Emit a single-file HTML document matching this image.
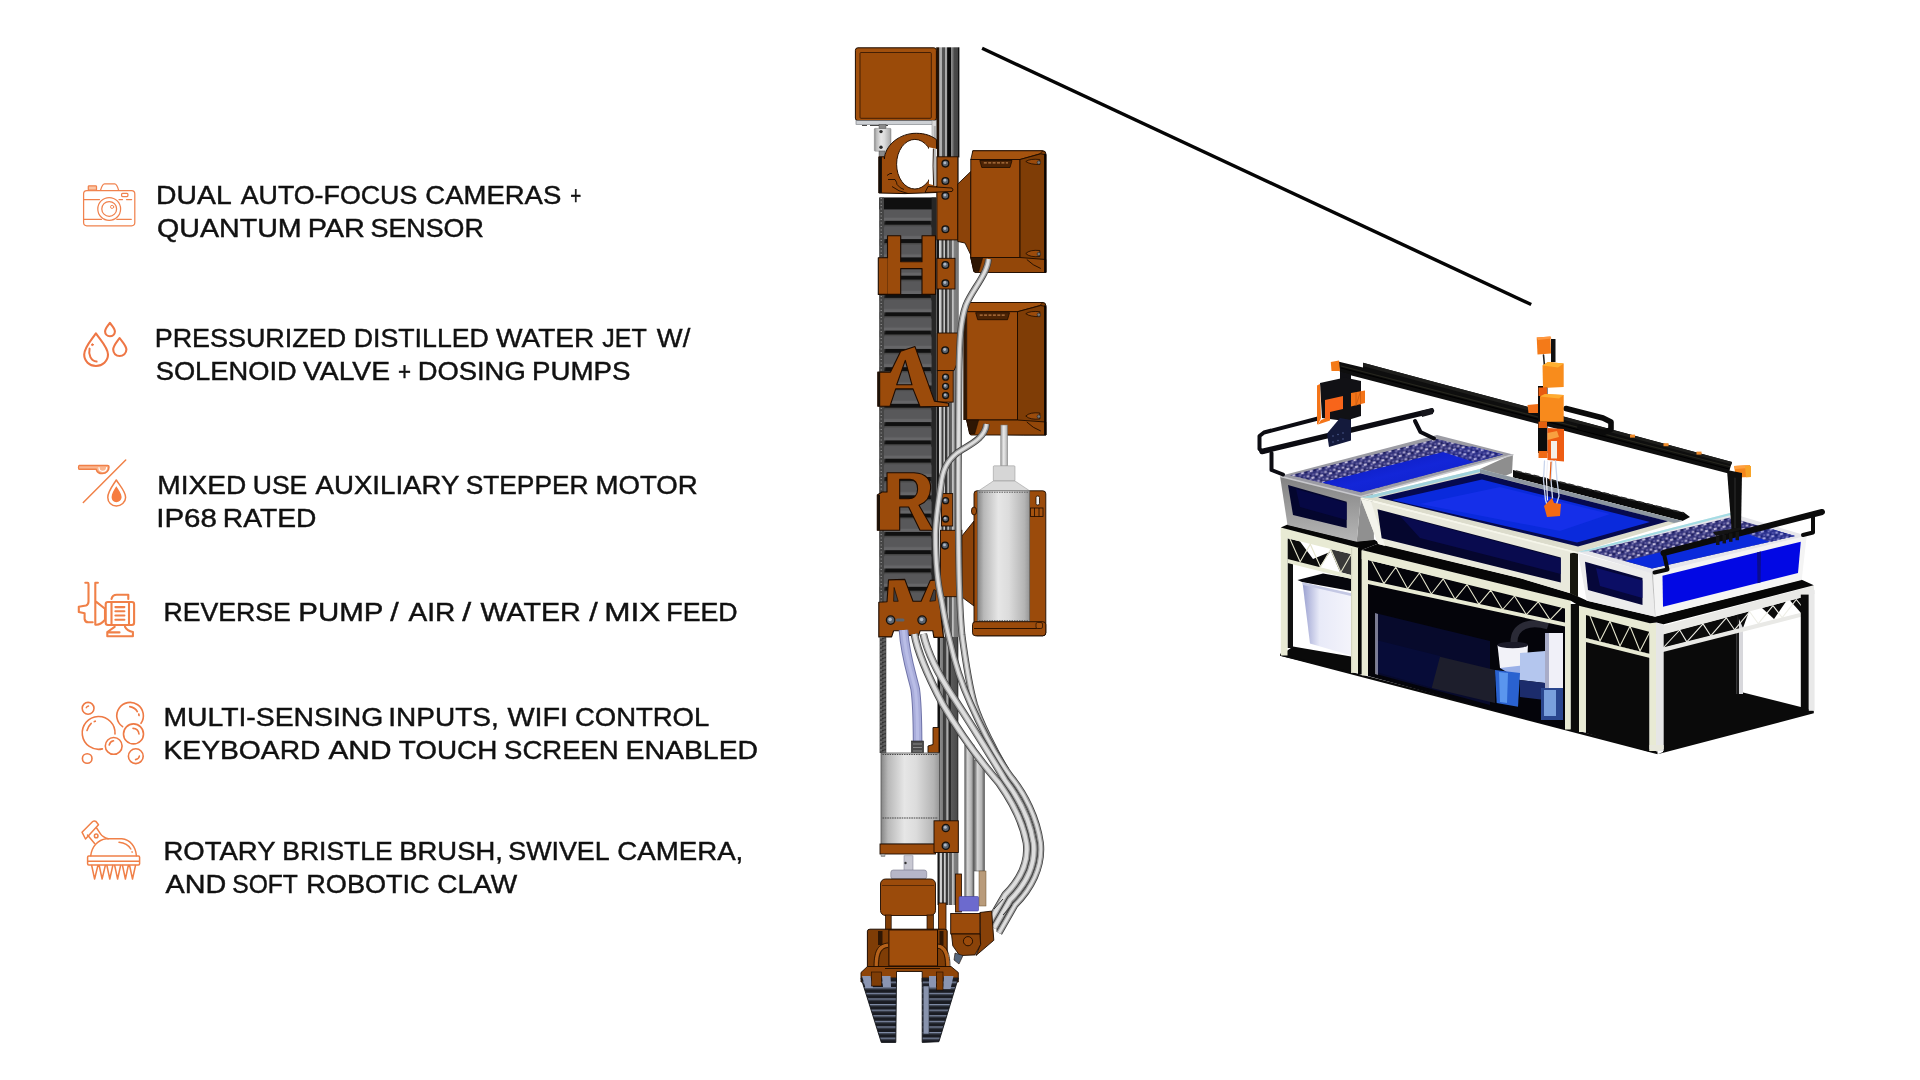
<!DOCTYPE html>
<html><head><meta charset="utf-8">
<style>
html,body{margin:0;padding:0;background:#fff;}
body{width:1920px;height:1080px;overflow:hidden;font-family:"Liberation Sans",sans-serif;}
svg{position:absolute;left:0;top:0;display:block;will-change:transform}
.t{font-family:"Liberation Sans",sans-serif;font-size:26px;fill:#111;stroke:#111;stroke-width:0.45px;}
.ic{fill:none;stroke:#f0824e;stroke-width:1.3;stroke-linecap:round;stroke-linejoin:round}
</style></head>
<body>
<svg id="main" width="1920" height="1080" viewBox="0 0 1920 1080">
<!-- TEXT -->
<g id="text">
<text class="t" x="156.10" y="204.0" textLength="75.60" lengthAdjust="spacingAndGlyphs">DUAL</text>
<text class="t" x="240.70" y="204.0" textLength="176.58" lengthAdjust="spacingAndGlyphs">AUTO-FOCUS</text>
<text class="t" x="425.31" y="204.0" textLength="135.99" lengthAdjust="spacingAndGlyphs">CAMERAS</text>
<text class="t" x="570.25" y="204.0" textLength="11.01" lengthAdjust="spacingAndGlyphs">+</text>
<text class="t" x="157.10" y="236.5" textLength="144.60" lengthAdjust="spacingAndGlyphs">QUANTUM</text>
<text class="t" x="307.70" y="236.5" textLength="57.20" lengthAdjust="spacingAndGlyphs">PAR</text>
<text class="t" x="370.51" y="236.5" textLength="113.39" lengthAdjust="spacingAndGlyphs">SENSOR</text>
<text class="t" x="154.70" y="347.0" textLength="191.40" lengthAdjust="spacingAndGlyphs">PRESSURIZED</text>
<text class="t" x="353.71" y="347.0" textLength="135.19" lengthAdjust="spacingAndGlyphs">DISTILLED</text>
<text class="t" x="496.10" y="347.0" textLength="98.18" lengthAdjust="spacingAndGlyphs">WATER</text>
<text class="t" x="602.13" y="347.0" textLength="44.58" lengthAdjust="spacingAndGlyphs">JET</text>
<text class="t" x="656.88" y="347.0" textLength="33.41" lengthAdjust="spacingAndGlyphs">W/</text>
<text class="t" x="155.70" y="379.6" textLength="141.00" lengthAdjust="spacingAndGlyphs">SOLENOID</text>
<text class="t" x="303.09" y="379.6" textLength="86.99" lengthAdjust="spacingAndGlyphs">VALVE</text>
<text class="t" x="398.12" y="379.6" textLength="13.03" lengthAdjust="spacingAndGlyphs">+</text>
<text class="t" x="417.68" y="379.6" textLength="108.04" lengthAdjust="spacingAndGlyphs">DOSING</text>
<text class="t" x="532.11" y="379.6" textLength="98.40" lengthAdjust="spacingAndGlyphs">PUMPS</text>
<text class="t" x="157.31" y="494.0" textLength="88.99" lengthAdjust="spacingAndGlyphs">MIXED</text>
<text class="t" x="252.72" y="494.0" textLength="54.57" lengthAdjust="spacingAndGlyphs">USE</text>
<text class="t" x="315.49" y="494.0" textLength="143.99" lengthAdjust="spacingAndGlyphs">AUXILIARY</text>
<text class="t" x="465.70" y="494.0" textLength="122.79" lengthAdjust="spacingAndGlyphs">STEPPER</text>
<text class="t" x="595.51" y="494.0" textLength="102.18" lengthAdjust="spacingAndGlyphs">MOTOR</text>
<text class="t" x="156.26" y="526.7" textLength="60.67" lengthAdjust="spacingAndGlyphs">IP68</text>
<text class="t" x="222.88" y="526.7" textLength="93.63" lengthAdjust="spacingAndGlyphs">RATED</text>
<text class="t" x="163.51" y="620.6" textLength="127.38" lengthAdjust="spacingAndGlyphs">REVERSE</text>
<text class="t" x="298.27" y="620.6" textLength="85.05" lengthAdjust="spacingAndGlyphs">PUMP</text>
<text class="t" x="390.34" y="620.6" textLength="8.46" lengthAdjust="spacingAndGlyphs">/</text>
<text class="t" x="408.48" y="620.6" textLength="46.78" lengthAdjust="spacingAndGlyphs">AIR</text>
<text class="t" x="462.35" y="620.6" textLength="8.92" lengthAdjust="spacingAndGlyphs">/</text>
<text class="t" x="480.49" y="620.6" textLength="100.20" lengthAdjust="spacingAndGlyphs">WATER</text>
<text class="t" x="589.20" y="620.6" textLength="8.46" lengthAdjust="spacingAndGlyphs">/</text>
<text class="t" x="604.27" y="620.6" textLength="56.04" lengthAdjust="spacingAndGlyphs">MIX</text>
<text class="t" x="666.30" y="620.6" textLength="71.40" lengthAdjust="spacingAndGlyphs">FEED</text>
<text class="t" x="163.50" y="726.0" textLength="219.80" lengthAdjust="spacingAndGlyphs">MULTI-SENSING</text>
<text class="t" x="388.28" y="726.0" textLength="110.45" lengthAdjust="spacingAndGlyphs">INPUTS,</text>
<text class="t" x="507.49" y="726.0" textLength="60.59" lengthAdjust="spacingAndGlyphs">WIFI</text>
<text class="t" x="574.91" y="726.0" textLength="134.39" lengthAdjust="spacingAndGlyphs">CONTROL</text>
<text class="t" x="163.50" y="758.6" textLength="156.99" lengthAdjust="spacingAndGlyphs">KEYBOARD</text>
<text class="t" x="328.48" y="758.6" textLength="62.97" lengthAdjust="spacingAndGlyphs">AND</text>
<text class="t" x="398.70" y="758.6" textLength="98.58" lengthAdjust="spacingAndGlyphs">TOUCH</text>
<text class="t" x="504.10" y="758.6" textLength="114.61" lengthAdjust="spacingAndGlyphs">SCREEN</text>
<text class="t" x="625.51" y="758.6" textLength="132.59" lengthAdjust="spacingAndGlyphs">ENABLED</text>
<text class="t" x="163.51" y="859.6" textLength="111.99" lengthAdjust="spacingAndGlyphs">ROTARY</text>
<text class="t" x="282.30" y="859.6" textLength="110.40" lengthAdjust="spacingAndGlyphs">BRISTLE</text>
<text class="t" x="399.27" y="859.6" textLength="103.66" lengthAdjust="spacingAndGlyphs">BRUSH,</text>
<text class="t" x="508.32" y="859.6" textLength="101.37" lengthAdjust="spacingAndGlyphs">SWIVEL</text>
<text class="t" x="617.30" y="859.6" textLength="126.00" lengthAdjust="spacingAndGlyphs">CAMERA,</text>
<text class="t" x="165.48" y="892.6" textLength="60.77" lengthAdjust="spacingAndGlyphs">AND</text>
<text class="t" x="232.34" y="892.6" textLength="65.55" lengthAdjust="spacingAndGlyphs">SOFT</text>
<text class="t" x="306.31" y="892.6" textLength="123.39" lengthAdjust="spacingAndGlyphs">ROBOTIC</text>
<text class="t" x="437.32" y="892.6" textLength="79.79" lengthAdjust="spacingAndGlyphs">CLAW</text>
</g>
<!-- ICONS -->
<g id="icons" class="ic">
<!-- camera -->
<g stroke-width="1.25">
<rect x="83.6" y="190.6" width="51.2" height="35.2" rx="3.2"/>
<path d="M100.6 190.2 C101.6 186.5 102.6 183.8 104.6 183.8 L114.6 183.8 C116.6 183.8 117.6 186.5 118.6 190.2"/>
<rect x="88.3" y="185.8" width="8.2" height="4.4" rx="0.8" fill="#fbc5a4"/>
<path d="M84.2 199.5 L99.5 199.5 M119 199.5 L122.5 199.5 M126.5 199.5 L131.6 199.5 M84.2 219.3 L101.5 219.3 M116.8 219.3 L131.3 219.3"/>
<circle cx="109.2" cy="208.9" r="11.4"/>
<circle cx="109.2" cy="208.9" r="7.4"/>
<circle cx="112.1" cy="206.9" r="1.6" stroke-width="0.9"/>
<rect x="121.6" y="193.4" width="6.3" height="3.1" rx="0.9"/>
</g>
<!-- droplets -->
<g stroke-width="2.1" stroke="#ee7645">
<path d="M95.9 333.4 C91 340.5 84.2 347.5 84.2 354.6 C84.2 361 89.3 366 95.9 366 C102.5 366 108 361 108 354.6 C108 347.5 100.8 340.5 95.9 333.4 Z"/>
<path d="M109.9 322.8 C107.8 326 105.1 328.6 105.1 331.5 C105.1 334.2 107.2 336.2 109.9 336.2 C112.6 336.2 114.9 334.2 114.9 331.5 C114.9 328.6 112 326 109.9 322.8 Z"/>
<path d="M119.6 338 C116.8 342 113.2 345.6 113.2 349.6 C113.2 353.2 116 356 119.6 356 C123.2 356 126.4 353.2 126.4 349.6 C126.4 345.6 122.4 342 119.6 338 Z"/>
<path d="M89.6 348.6 C88.2 354.5 90.8 361 96.6 361.6" stroke-width="2"/>
<circle cx="92.4" cy="344.7" r="0.9" fill="#ee7645" stroke-width="1"/>
</g>
<!-- spoon / drop -->
<g stroke-width="1.5" stroke="#f08048">
<path d="M79.2 465.6 L107.5 465.6 C108.6 465.6 109 466.2 109 467 C109 470.5 106.5 473.6 102.5 473.6 C99 473.6 96.8 471.6 96.2 469.2 L79.2 469.2 C78.4 469.2 78.4 465.6 79.2 465.6 Z" fill="#fbb68f"/>
<path d="M99 467.6 C99 470.4 101 471.4 102.6 471.4 C104.4 471.4 106.4 470.4 106.6 467.6" stroke="#fff" stroke-width="1.1"/>
<path d="M125.7 460 L83.3 502.5"/>
<path d="M116.3 480 C112.5 486 107.8 491.5 107.8 497.4 C107.8 502.2 111.5 505.9 116.3 505.9 C121.1 505.9 125.6 502.2 125.6 497.4 C125.6 491.5 120.1 486 116.3 480 Z"/>
<path d="M116.3 486.2 C114 490 111.6 493.5 111.6 497 C111.6 500 113.6 502.2 116.3 502.2 C119 502.2 121.6 500 121.6 497 C121.6 493.5 118.6 490 116.3 486.2 Z" fill="#f67c40" stroke="none"/>
</g>
<!-- pump -->
<g stroke-width="2.1" stroke="#f08048">
<path d="M85.3 582.8 L87.6 582.8 Q88.5 582.8 88.5 584 L88.5 601.5 Q88.5 604.5 86 605.5 L78.8 606.8 L78.8 611.9 L84.6 613.2 L84.6 619 Q85 622.3 88.5 622.3 L92.7 622.3"/>
<path d="M97.9 582.8 L95.3 582.8 L95.3 624.6 Q100 625.5 105 619.7 L105 608.7 L96 601.6"/>
<rect x="105.7" y="602" width="28.4" height="23" rx="2.2"/>
<path d="M111.5 602.5 L111.5 624.5 M129 602.5 L129 624.5"/>
<path d="M115.4 607.1 L124.4 607.1 M115.4 611.3 L124.4 611.3 M115.4 615.5 L124.4 615.5 M115.4 619.7 L124.4 619.7"/>
<path d="M111.5 599 Q112.5 594.8 116.7 594.8 L128.3 594.8 L128.3 599"/>
<path d="M114.7 626.8 L107.3 632 L107.3 636.2 L132.9 636.2 L132.9 632 Q127 631 125 626.8 M109 632.4 L119.5 632.4"/>
</g>
<!-- bubbles -->
<g stroke-width="1.6" stroke="#ee7a45">
<circle cx="88.1" cy="708.3" r="5.9"/>
<path d="M86.2 707.8 Q86.8 706.2 88.6 706" stroke-width="1.3"/>
<path d="M115 734 A16.4 16.4 0 1 0 102.4 748.9"/>
<path d="M87 730.4 Q88.5 726 91.2 723.4 M94.3 721.6 L95.3 721.2" />
<path d="M122.6 726.7 A13.3 13.3 0 1 1 141 723.3"/>
<path d="M129.8 706.7 Q135.5 708 137.3 711.6 M138.8 714 L139 715.5" stroke-width="1.7"/>
<circle cx="133.5" cy="733.9" r="10"/>
<path d="M133 728.4 Q138.3 728.6 139 734" />
<circle cx="113.7" cy="745.9" r="8.4"/>
<path d="M109.2 745 Q110 741.5 113.5 740.8"/>
<circle cx="87.2" cy="758.5" r="4.8"/>
<circle cx="135.8" cy="756.2" r="7.4"/>
<path d="M139.4 756 Q139 759 135.6 759.6"/>
</g>
<!-- brush -->
<g stroke-width="1.5" stroke="#f08048">
<rect x="87.6" y="856" width="52" height="8.9" rx="1.2"/>
<path d="M88 861.3 L139.2 861.3"/>
<path d="M90.7 855.8 C92 846 98 839.8 106.3 838.7 L108.2 838.7 L121.8 838.7 C130 839.6 135.6 846 136.4 855.8"/>
<path d="M119 842.2 Q127.5 843 130.8 849 M132 851.8 L132.2 852.2"/>
<path d="M82 832.2 L92.7 821.5 Q94.3 820.4 96 821.5 L98.5 824.7 L85.5 839 Z"/>
<path d="M87.5 835.1 L94.6 843.5 M96.6 828 L100.5 833.8 Q102.5 837 108.2 838.7"/>
<circle cx="96.2" cy="835.9" r="1.8"/>
<path d="M91.7 865.5 L94.6 879 L97.9 865.5 M99.2 865.5 L102.1 879 L105.3 865.5 M106.9 865.5 L109.8 879 L112.8 865.5 M114.7 865.5 L117.6 879 L120.6 865.5 M122.5 865.5 L125.4 879 L128.3 865.5 M129.6 865.5 L132.5 879 L135.5 865.5"/>
</g>
</g>

<!-- LINE -->
<line x1="982.1" y1="48.3" x2="1531.2" y2="304.5" stroke="#050505" stroke-width="3.45"/>
<!-- ARM -->
<defs>
<linearGradient id="railT" x1="0" x2="1" y1="0" y2="0"><stop offset="0" stop-color="#1c0f05"/><stop offset="0.12" stop-color="#241408"/><stop offset="0.13" stop-color="#8a8a8a"/><stop offset="0.19" stop-color="#b4b4b4"/><stop offset="0.25" stop-color="#a8a8a8"/><stop offset="0.27" stop-color="#555"/><stop offset="0.38" stop-color="#505050"/><stop offset="0.40" stop-color="#aaa"/><stop offset="0.47" stop-color="#a4a4a4"/><stop offset="0.49" stop-color="#080808"/><stop offset="0.64" stop-color="#0a0a0a"/><stop offset="0.66" stop-color="#8c8c8c"/><stop offset="0.74" stop-color="#686868"/><stop offset="0.76" stop-color="#4a4a4a"/><stop offset="0.93" stop-color="#444"/><stop offset="0.95" stop-color="#111"/><stop offset="1" stop-color="#111"/></linearGradient>
<linearGradient id="rail" x1="0" x2="1" y1="0" y2="0"><stop offset="0" stop-color="#111"/><stop offset="0.09" stop-color="#1a1a1a"/><stop offset="0.11" stop-color="#d8d8d8"/><stop offset="0.21" stop-color="#c4c4c4"/><stop offset="0.23" stop-color="#3a3a3a"/><stop offset="0.30" stop-color="#444"/><stop offset="0.32" stop-color="#d0d0d0"/><stop offset="0.38" stop-color="#c0c0c0"/><stop offset="0.40" stop-color="#333"/><stop offset="0.48" stop-color="#3a3a3a"/><stop offset="0.50" stop-color="#bdbdbd"/><stop offset="0.56" stop-color="#b0b0b0"/><stop offset="0.58" stop-color="#555"/><stop offset="0.70" stop-color="#666"/><stop offset="0.72" stop-color="#c0c0c0"/><stop offset="0.78" stop-color="#aaa"/><stop offset="0.80" stop-color="#808080"/><stop offset="0.96" stop-color="#787878"/><stop offset="1" stop-color="#444"/></linearGradient>
<linearGradient id="railB" x1="0" x2="1" y1="0" y2="0"><stop offset="0" stop-color="#0c0c0c"/><stop offset="0.10" stop-color="#141414"/><stop offset="0.12" stop-color="#8a8a8a"/><stop offset="0.24" stop-color="#7c7c7c"/><stop offset="0.26" stop-color="#3a3a3a"/><stop offset="0.42" stop-color="#444"/><stop offset="0.44" stop-color="#b4b4b4"/><stop offset="0.52" stop-color="#a0a0a0"/><stop offset="0.54" stop-color="#222"/><stop offset="0.64" stop-color="#2c2c2c"/><stop offset="0.66" stop-color="#5a5a5a"/><stop offset="0.92" stop-color="#4c4c4c"/><stop offset="1" stop-color="#222"/></linearGradient>
<linearGradient id="silv" x1="0" x2="1" y1="0" y2="0"><stop offset="0" stop-color="#858585"/><stop offset="0.12" stop-color="#b8b8b8"/><stop offset="0.40" stop-color="#e6e6e6"/><stop offset="0.60" stop-color="#dcdcdc"/><stop offset="0.90" stop-color="#b4b4b4"/><stop offset="1" stop-color="#969696"/></linearGradient>
<linearGradient id="tube" x1="0" x2="1" y1="0" y2="0"><stop offset="0" stop-color="#666"/><stop offset="0.3" stop-color="#d4d4d4"/><stop offset="0.7" stop-color="#b4b4b4"/><stop offset="1" stop-color="#5a5a5a"/></linearGradient>
<pattern id="chain" x="879.4" y="184.2" width="56.6" height="18.3" patternUnits="userSpaceOnUse"><rect width="56.6" height="18.3" fill="#58585a"/><rect y="0" width="56.6" height="4" fill="#101010"/><rect y="4" width="56.6" height="1.2" fill="#444"/><rect y="15.2" width="56.6" height="3.1" fill="#666668"/><path d="M0 0 L6 0 L4.5 6.5 L0 6.5Z" fill="#3a3a3a"/><path d="M56.6 0 L51 0 L52 6.5 L56.6 6.5Z" fill="#2a2a2a"/></pattern>
<pattern id="rope" x="879.6" y="637" width="6.7" height="4" patternUnits="userSpaceOnUse"><rect width="6.7" height="4" fill="#505050"/><rect x="0.8" y="0.3" width="1.3" height="1.3" fill="#8a8a8a"/><rect x="4" y="2.2" width="1.3" height="1.3" fill="#7c7c7c"/><rect x="2.6" y="1" width="1.3" height="1.3" fill="#1e1e1e"/><rect x="5.2" y="0" width="1.2" height="1.2" fill="#262626"/><rect x="0.5" y="2.6" width="1.2" height="1.2" fill="#2a2a2a"/></pattern>
<pattern id="finger" x="860" y="976" width="40" height="5.6" patternUnits="userSpaceOnUse"><rect width="40" height="5.6" fill="#191b22"/><rect y="0" width="40" height="1.3" fill="#7f8ba6"/><rect y="1.3" width="40" height="0.9" fill="#474e60"/></pattern>
</defs>
<g id="arm">
<rect x="936.2" y="47.3" width="23.2" height="110.2" fill="url(#railT)" />
<rect x="936.7" y="157.0" width="21.9" height="480.0" fill="url(#rail)" />
<rect x="937.5" y="637.0" width="20.8" height="216.0" fill="url(#railB)" />
<rect x="937.5" y="853.0" width="20.8" height="52.0" fill="url(#rail)" />
<rect x="855.4" y="47.8" width="81.0" height="72.8" fill="#a2500d" rx="2.5" stroke="#1c0b00" stroke-width="1" />
<rect x="860.0" y="52.5" width="71.3" height="65.8" fill="#9b4b09" rx="1" stroke="#3a1a03" stroke-width="0.9" />
<rect x="856.0" y="120.6" width="76.5" height="3.7" fill="#cdd0d4" stroke="#70747a" stroke-width="0.6" />
<rect x="932.0" y="120.5" width="4.2" height="39.5" fill="#d9d9d9" stroke="#8a8a8a" stroke-width="0.5" />
<path d="M862 125.5 L890 125.5" stroke="#333" stroke-width="0.9" stroke-dasharray="5 3 9 4"/>
<rect x="874.3" y="128.3" width="16.7" height="22.9" fill="url(#silv)" rx="1" stroke="#8a8a8a" stroke-width="0.5" />
<rect x="879.0" y="124.5" width="7.0" height="4.0" fill="#8a8a8a" stroke="#444" stroke-width="0.4" />
<circle cx="881" cy="131.6" r="1.7" fill="#2a2a2a"/><circle cx="881" cy="147.3" r="1.7" fill="#2a2a2a"/>
<rect x="879.0" y="151.0" width="6.0" height="6.5" fill="#8a8a8a" stroke="#444" stroke-width="0.4" />
<rect x="879.4" y="197.6" width="56.6" height="404.4" fill="url(#chain)" />
<rect x="879.4" y="197.6" width="56.6" height="11.8" fill="#101010" />
<rect x="879.4" y="197.6" width="4.6" height="404.4" fill="#454545" />
<path d="M881.2 198 L881.2 602" stroke="#9a9a9a" stroke-width="1.1" stroke-dasharray="0.9 2.6" fill="none"/>
<rect x="931.6" y="197.6" width="5.0" height="404.4" fill="#262626" />
<path d="M934.8 126 L934.8 186" stroke="#b0b0b0" stroke-width="2.2" fill="none"/>
<path d="M936.6 149 L936.4 139.5 C930 134.6 922 132.8 913 133.4 C897 135 885 146.5 884.4 159 L884.4 156.8 L878.8 156.8 L878.8 193 L905 193.6 L936.6 192.5 L936.6 186 Z" fill="#9b4b0b" stroke="#1c0b00" stroke-width="1" stroke-linejoin="round"/>
<rect x="878.8" y="157.0" width="3.1" height="36.0" fill="#130c06" />
<ellipse cx="914.9" cy="164.2" rx="18.3" ry="24.8" fill="#fff" stroke="#2a1202" stroke-width="1"/>
<path d="M929 147.3 L936.9 149 L936.9 186 L929 184 Z" fill="#fff"/>
<path d="M934.9 149 L934.9 185.6" stroke="#b8b8b8" stroke-width="2" fill="none"/>
<path d="M933.4 148.6 Q932.6 165 933.6 185.6" stroke="#2a1a10" stroke-width="1" fill="none"/>
<path d="M887 175.5 l3 -2 l2 0 m-4 6 l7 0 q2 3 2 5 q3 4 7 5 m-12 -3 q6 5 16 7" fill="none" stroke="#1c0b00" stroke-width="0.9"/>
<rect x="936.9" y="156.8" width="20.9" height="83.1" fill="#9b4b0b" stroke="#1c0b00" stroke-width="0.9" />
<path d="M928 186.5 L952 188 Q954 190 952 191.5 L925 192.5Z" fill="#9b4b0b" stroke="#1c0b00" stroke-width="0.9"/>
<circle cx="945.4" cy="163.6" r="3.4" fill="#5b6470" stroke="#16110c" stroke-width="1.3"/><circle cx="944.9" cy="162.9" r="1.43" fill="#aeb6c2"/>
<circle cx="945.4" cy="181" r="3.4" fill="#5b6470" stroke="#16110c" stroke-width="1.3"/><circle cx="944.9" cy="180.3" r="1.43" fill="#aeb6c2"/>
<circle cx="945.4" cy="195.8" r="3.4" fill="#5b6470" stroke="#16110c" stroke-width="1.3"/><circle cx="944.9" cy="195.10000000000002" r="1.43" fill="#aeb6c2"/>
<circle cx="945.4" cy="229.2" r="3.4" fill="#5b6470" stroke="#16110c" stroke-width="1.3"/><circle cx="944.9" cy="228.5" r="1.43" fill="#aeb6c2"/>
<polygon points="957.8,184.0 970.8,171.5 970.8,255.0 965.0,243.0 957.8,241.5" fill="#8c4309" stroke="#1c0b00" stroke-width="0.9" stroke-linejoin="round" />
<path d="M972.8 150.8 L1042.8 150.8 Q1045.8 150.8 1045.8 153.8 L1045.8 272.5 L1026 272.5 L973.8 271.5 L970.8 257.5 Z" fill="#7f3d06" stroke="#1c0b00" stroke-width="1" stroke-linejoin="round"/>
<polygon points="972.8,150.8 1042.8,150.8 1039.8,153.8 1020.0,159.5 970.8,159.5" fill="#a5530f" stroke="#1c0b00" stroke-width="0.8" stroke-linejoin="round" />
<rect x="970.8" y="159.5" width="49.2" height="98.0" fill="#9b4b0b" stroke="#1c0b00" stroke-width="0.9" />
<polygon points="1020.0,159.5 1040.8,153.8 1045.8,154.8 1045.8,272.5 1020.0,257.5" fill="#7f3d06" stroke="#1c0b00" stroke-width="0.9" stroke-linejoin="round" />
<polygon points="979.8,160.5 1012.0,160.5 1010.0,167.5 981.8,167.5" fill="#4d2405" stroke="#1c0b00" stroke-width="0.8" stroke-linejoin="round" />
<path d="M983.8 162.9 L1008 162.9" stroke="#b87a45" stroke-width="1.2" stroke-dasharray="3 1.4"/>
<polygon points="970.8,257.5 1020.0,257.5 1045.8,259.5 1045.8,272.5 974.8,272.5" fill="#934709" stroke="#1c0b00" stroke-width="0.9" stroke-linejoin="round" />
<polygon points="970.8,257.5 982.8,257.5 978.8,271.5 973.8,271.5" fill="#2e1604" stroke="#1c0b00" stroke-width="0.5" stroke-linejoin="round" />
<path d="M1025.8 161.5 q4 -3 14 -2 l0 5 q-10 0 -14 -3Z" fill="#9b4b0b" stroke="#1c0b00" stroke-width="0.8"/>
<circle cx="1038.8" cy="162.5" r="1.7" fill="#777" stroke="#222" stroke-width="0.6"/>
<path d="M1025.8 253.5 q4 -4 14 -3 l0 6 q-10 1 -14 -3Z" fill="#9b4b0b" stroke="#1c0b00" stroke-width="0.8"/>
<circle cx="1038.8" cy="254.0" r="1.7" fill="#777" stroke="#222" stroke-width="0.6"/>
<path d="M1026.8 259.5 q6 6 14 9" fill="none" stroke="#1c0b00" stroke-width="0.9"/>
<path d="M1045.2 153.8 L1045.2 272.5" stroke="#070302" stroke-width="2.2"/>
<path d="M887.5 235.8 L900.7 235.8 L900.7 261.8 L922 261.8 L922 235.8 L935.5 235.8 L935.5 294.4 L922 294.4 L922 268.6 L900.7 268.6 L900.7 294.4 L878.3 294.4 L878.3 257.7 L887.5 257.7 Z" fill="#9b4b0b" stroke="#1c0b00" stroke-width="1.1" stroke-linejoin="round"/>
<path d="M887.5 258 L887.5 294" stroke="#1c0b00" stroke-width="0.6" opacity="0.5"/>
<rect x="936.9" y="258.3" width="18.1" height="30.7" fill="#9b4b0b" stroke="#1c0b00" stroke-width="0.9" />
<circle cx="945.4" cy="265" r="3.4" fill="#5b6470" stroke="#16110c" stroke-width="1.3"/><circle cx="944.9" cy="264.3" r="1.43" fill="#aeb6c2"/>
<circle cx="945.4" cy="283.2" r="3.4" fill="#5b6470" stroke="#16110c" stroke-width="1.3"/><circle cx="944.9" cy="282.5" r="1.43" fill="#aeb6c2"/>
<path d="M968.7 302.5 L1042.8 302.5 Q1045.8 302.5 1045.8 305.5 L1045.8 435 L1023.5 435 L969.7 434 L966.7 420 Z" fill="#7f3d06" stroke="#1c0b00" stroke-width="1" stroke-linejoin="round"/>
<polygon points="968.7,302.5 1042.8,302.5 1039.8,305.5 1017.5,311.7 966.7,311.7" fill="#a5530f" stroke="#1c0b00" stroke-width="0.8" stroke-linejoin="round" />
<rect x="966.7" y="311.7" width="50.8" height="108.3" fill="#9b4b0b" stroke="#1c0b00" stroke-width="0.9" />
<polygon points="1017.5,311.7 1040.8,305.5 1045.8,306.5 1045.8,435.0 1017.5,420.0" fill="#7f3d06" stroke="#1c0b00" stroke-width="0.9" stroke-linejoin="round" />
<polygon points="975.7,312.7 1009.5,312.7 1007.5,319.7 977.7,319.7" fill="#4d2405" stroke="#1c0b00" stroke-width="0.8" stroke-linejoin="round" />
<path d="M979.7 315.09999999999997 L1005.5 315.09999999999997" stroke="#b87a45" stroke-width="1.2" stroke-dasharray="3 1.4"/>
<polygon points="966.7,420.0 1017.5,420.0 1045.8,422.0 1045.8,435.0 970.7,435.0" fill="#934709" stroke="#1c0b00" stroke-width="0.9" stroke-linejoin="round" />
<polygon points="966.7,420.0 978.7,420.0 974.7,434.0 969.7,434.0" fill="#2e1604" stroke="#1c0b00" stroke-width="0.5" stroke-linejoin="round" />
<path d="M1025.8 313.7 q4 -3 14 -2 l0 5 q-10 0 -14 -3Z" fill="#9b4b0b" stroke="#1c0b00" stroke-width="0.8"/>
<circle cx="1038.8" cy="314.7" r="1.7" fill="#777" stroke="#222" stroke-width="0.6"/>
<path d="M1025.8 416 q4 -4 14 -3 l0 6 q-10 1 -14 -3Z" fill="#9b4b0b" stroke="#1c0b00" stroke-width="0.8"/>
<circle cx="1038.8" cy="416.5" r="1.7" fill="#777" stroke="#222" stroke-width="0.6"/>
<path d="M1026.8 422 q6 6 14 9" fill="none" stroke="#1c0b00" stroke-width="0.9"/>
<path d="M1045.2 305.5 L1045.2 435" stroke="#070302" stroke-width="2.2"/>
<rect x="963.3" y="312.0" width="3.4" height="108.0" fill="#2e1604" />
<polygon points="937.2,333.0 957.8,333.0 957.8,362.0 954.0,370.6 937.2,370.6" fill="#9b4b0b" stroke="#1c0b00" stroke-width="0.9" stroke-linejoin="round" />
<circle cx="945.2" cy="350.2" r="3.4" fill="#5b6470" stroke="#16110c" stroke-width="1.3"/><circle cx="944.7" cy="349.5" r="1.43" fill="#aeb6c2"/>
<rect x="937.2" y="370.6" width="16.0" height="31.5" fill="#9b4b0b" stroke="#1c0b00" stroke-width="0.9" />
<circle cx="945.6" cy="377.2" r="3" fill="#5b6470" stroke="#16110c" stroke-width="1.3"/><circle cx="945.1" cy="376.5" r="1.26" fill="#aeb6c2"/>
<circle cx="945.6" cy="386.3" r="3" fill="#5b6470" stroke="#16110c" stroke-width="1.3"/><circle cx="945.1" cy="385.6" r="1.26" fill="#aeb6c2"/>
<circle cx="945.6" cy="395.5" r="3" fill="#5b6470" stroke="#16110c" stroke-width="1.3"/><circle cx="945.1" cy="394.8" r="1.26" fill="#aeb6c2"/>
<path d="M900.7 351.2 L915 346.6 L934.4 401.1 L948.6 403.2 L948.6 406.2 L920.1 406.7 L913 388.9 L895.7 388.9 L890 406.2 L877.8 406.2 L877.8 372.1 L890.5 372.1 Z M905.3 360.4 L912 384.8 L896.7 384.8 Z" fill="#9b4b0b" fill-rule="evenodd" stroke="#1c0b00" stroke-width="1.1" stroke-linejoin="round"/>
<rect x="877.8" y="372.1" width="2.4" height="34.1" fill="#1c1006" />
<rect x="1000.8" y="425.0" width="6.7" height="41.0" fill="url(#silv)" stroke="#777" stroke-width="0.5" />
<rect x="993.3" y="465.8" width="21.7" height="15.2" fill="#d6d6d6" rx="1" stroke="#8d8d8d" stroke-width="0.5" />
<path d="M887 472.7 L914 472.7 C927 473 931 481 930.6 488.5 C930.2 497 925.5 503 919 505.2 L933.3 530.3 L920 530.3 L908.6 507 L899.7 507 L899.7 530.3 L877.3 530.3 L877.3 495 L882 492 L887 492 Z M899.7 479.4 L910 479.4 C916 479.8 917.6 484.5 917.6 489 C917.6 494 915 498.7 908.5 498.7 L899.7 498.7 Z" fill="#9b4b0b" fill-rule="evenodd" stroke="#1c0b00" stroke-width="1.1" stroke-linejoin="round"/>
<rect x="877.3" y="495.0" width="2.7" height="35.3" fill="#1c1006" />
<rect x="941.5" y="493.6" width="11.2" height="32.4" fill="#9b4b0b" stroke="#1c0b00" stroke-width="0.9" />
<circle cx="945.6" cy="500.7" r="3" fill="#5b6470" stroke="#16110c" stroke-width="1.3"/><circle cx="945.1" cy="500.0" r="1.26" fill="#aeb6c2"/>
<circle cx="945.6" cy="519" r="3" fill="#5b6470" stroke="#16110c" stroke-width="1.3"/><circle cx="945.1" cy="518.3" r="1.26" fill="#aeb6c2"/>
<rect x="940.5" y="530.3" width="21.4" height="66.4" fill="#9b4b0b" stroke="#1c0b00" stroke-width="0.9" />
<circle cx="945" cy="545.6" r="3.4" fill="#5b6470" stroke="#16110c" stroke-width="1.3"/><circle cx="944.5" cy="544.9" r="1.43" fill="#aeb6c2"/>
<polygon points="961.9,536.0 974.0,521.0 974.0,606.0 961.9,597.0" fill="#8c4309" stroke="#1c0b00" stroke-width="0.9" stroke-linejoin="round" />
<rect x="974.0" y="490.8" width="71.8" height="145.0" fill="#9b4b0b" rx="3" stroke="#1c0b00" stroke-width="0.9" />
<polygon points="978.3,491.0 993.3,481.0 1015.0,481.0 1030.0,491.0" fill="#dadada" stroke="#8d8d8d" stroke-width="0.5" stroke-linejoin="round" />
<rect x="977.5" y="490.8" width="52.2" height="130.9" fill="url(#silv)" stroke="#5e5e5e" stroke-width="0.7" />
<path d="M979 492.3 L1028.5 492.3" stroke="#666" stroke-width="1.1" stroke-dasharray="1.5 1"/>
<path d="M979 620.6 L1028.5 620.6" stroke="#666" stroke-width="1" stroke-dasharray="1.5 1"/>
<rect x="972.5" y="621.7" width="73.3" height="14.1" fill="#9b4b0b" rx="3" stroke="#1c0b00" stroke-width="0.9" />
<path d="M974 628.5 L1040 628.5" stroke="#1c0b00" stroke-width="0.9"/>
<rect x="1036.0" y="622.5" width="6.5" height="6.0" fill="#a5530f" rx="1.5" stroke="#1c0b00" stroke-width="0.7" />
<rect x="1030.5" y="508.0" width="12.5" height="8.5" fill="#a5530f" stroke="#1c0b00" stroke-width="0.8" />
<rect x="1036.0" y="496.0" width="3.5" height="9.0" fill="#f0f0f0" rx="1.5" stroke="#1c0b00" stroke-width="0.8" />
<path d="M1034.5 508 L1034.5 516.5 M1039 508 L1039 516.5" stroke="#1c0b00" stroke-width="0.8"/>
<ellipse cx="974" cy="511" rx="2.6" ry="4" fill="#9b4b0b" stroke="#1c0b00" stroke-width="0.8"/>
<path d="M878.8 602.3 L887 601.8 L888.5 579.9 L904.8 579.4 L913 601.3 L921.1 601.3 L930.3 580.4 L938 579.9 L941.5 621 L943.5 637.4 L933.9 637.4 L932.8 630.8 L920.1 630.8 L918.6 635.4 L908.9 635.4 L906.9 630.8 L893.6 630.8 L891.6 636.9 L878.8 636.9 Z" fill="#9b4b0b" stroke="#1c0b00" stroke-width="1.1" stroke-linejoin="round"/>
<polygon points="894.1,587.5 898.2,601.3 893.6,601.3" fill="#3f3f41" stroke="#1c0b00" stroke-width="0.7" stroke-linejoin="round" />
<polygon points="933.9,589.5 935.9,590.6 935.4,600.7 929.8,601.3" fill="#3f3f41" stroke="#1c0b00" stroke-width="0.7" stroke-linejoin="round" />
<circle cx="890.6" cy="620.1" r="4.2" fill="#5b6470" stroke="#16110c" stroke-width="1.3"/><circle cx="890.1" cy="619.4" r="1.76" fill="#aeb6c2"/>
<circle cx="922.1" cy="620.1" r="4.2" fill="#5b6470" stroke="#16110c" stroke-width="1.3"/><circle cx="921.6" cy="619.4" r="1.76" fill="#aeb6c2"/>
<path d="M897 620 L903 620" stroke="#59626e" stroke-width="3" stroke-linecap="round"/>
<rect x="879.6" y="637.0" width="6.7" height="116.0" fill="url(#rope)" />
<rect x="964.8" y="745.0" width="9.2" height="152.0" fill="url(#tube)" stroke="#444" stroke-width="0.5" />
<rect x="974.5" y="760.0" width="10.0" height="111.0" fill="url(#tube)" stroke="#444" stroke-width="0.5" />
<rect x="979.0" y="871.0" width="7.0" height="35.0" fill="#b99b7a" stroke="#6a5030" stroke-width="0.5" />
<path d="M903.5 630 C905 655 912 675 915.2 689 C917.5 705 917.5 725 917.6 744" fill="none" stroke="#6f73a8" stroke-width="9.6"/>
<path d="M903.5 630 C905 655 912 675 915.2 689 C917.5 705 917.5 725 917.6 744" fill="none" stroke="#a9addb" stroke-width="7.6"/>
<path d="M903.5 630 C905 655 912 675 915.2 689 C917.5 705 917.5 725 917.6 744" fill="none" stroke="#b9bde6" stroke-width="3"/>
<rect x="911.5" y="741.0" width="12.0" height="12.5" fill="#4a4a4a" stroke="#1a1a1a" stroke-width="0.6" />
<path d="M913 744 L922 744 M913 747.5 L922 747.5 M913 751 L922 751" stroke="#999" stroke-width="0.8"/>
<path d="M988.5 259 C987 275 972 290 966 305 C960.5 320 959.5 340 959 372 L958.5 440 C958 500 958 545 959.5 590 C960 610 961 625 962 635 C964 650 969 685 974.4 704 C980 722 995 752 1006 770" fill="none" stroke="#3e3e3e" stroke-width="6.8" stroke-linecap="butt"/>
<path d="M988.5 259 C987 275 972 290 966 305 C960.5 320 959.5 340 959 372 L958.5 440 C958 500 958 545 959.5 590 C960 610 961 625 962 635 C964 650 969 685 974.4 704 C980 722 995 752 1006 770" fill="none" stroke="#9c9c9c" stroke-width="5.3"/>
<path d="M988.5 259 C987 275 972 290 966 305 C960.5 320 959.5 340 959 372 L958.5 440 C958 500 958 545 959.5 590 C960 610 961 625 962 635 C964 650 969 685 974.4 704 C980 722 995 752 1006 770" fill="none" stroke="#dedede" stroke-width="2.8"/>
<path d="M986.5 424 C985 440 966 446 957 453 C947 461 942.5 470 941 485 C938 505 935.5 520 935.5 535 C935.5 560 938 585 941.5 600 C944 615 947 630 950 641 C954 660 962 685 970.7 704 C980 725 995 755 1011 777 C1025 794 1037 818 1040.5 843 C1043 867 1031 889 1015 905 L999 933" fill="none" stroke="#3e3e3e" stroke-width="6.8" stroke-linecap="butt"/>
<path d="M986.5 424 C985 440 966 446 957 453 C947 461 942.5 470 941 485 C938 505 935.5 520 935.5 535 C935.5 560 938 585 941.5 600 C944 615 947 630 950 641 C954 660 962 685 970.7 704 C980 725 995 755 1011 777 C1025 794 1037 818 1040.5 843 C1043 867 1031 889 1015 905 L999 933" fill="none" stroke="#9c9c9c" stroke-width="5.3"/>
<path d="M986.5 424 C985 440 966 446 957 453 C947 461 942.5 470 941 485 C938 505 935.5 520 935.5 535 C935.5 560 938 585 941.5 600 C944 615 947 630 950 641 C954 660 962 685 970.7 704 C980 725 995 755 1011 777 C1025 794 1037 818 1040.5 843 C1043 867 1031 889 1015 905 L999 933" fill="none" stroke="#dedede" stroke-width="2.8"/>
<path d="M923.3 634 C928 655 942 680 953 696.7 C965 715 990 755 1005 780 C1018 797 1030 820 1033.5 843 C1036 865 1025 885 1010 900 L994 928" fill="none" stroke="#3e3e3e" stroke-width="7.6" stroke-linecap="butt"/>
<path d="M923.3 634 C928 655 942 680 953 696.7 C965 715 990 755 1005 780 C1018 797 1030 820 1033.5 843 C1036 865 1025 885 1010 900 L994 928" fill="none" stroke="#9c9c9c" stroke-width="6.1"/>
<path d="M923.3 634 C928 655 942 680 953 696.7 C965 715 990 755 1005 780 C1018 797 1030 820 1033.5 843 C1036 865 1025 885 1010 900 L994 928" fill="none" stroke="#dedede" stroke-width="3.5999999999999996"/>
<path d="M914.4 634 C918 655 930 680 942.6 704 C955 725 975 755 999 783 C1011 800 1023 822 1026.5 843 C1029 863 1019 881 1005 895 L989 923" fill="none" stroke="#3e3e3e" stroke-width="7.6" stroke-linecap="butt"/>
<path d="M914.4 634 C918 655 930 680 942.6 704 C955 725 975 755 999 783 C1011 800 1023 822 1026.5 843 C1029 863 1019 881 1005 895 L989 923" fill="none" stroke="#9c9c9c" stroke-width="6.1"/>
<path d="M914.4 634 C918 655 930 680 942.6 704 C955 725 975 755 999 783 C1011 800 1023 822 1026.5 843 C1029 863 1019 881 1005 895 L989 923" fill="none" stroke="#dedede" stroke-width="3.5999999999999996"/>
<path d="M1003 899 L994 909 M1012 905 L1003 915" stroke="#333" stroke-width="1"/>
<polygon points="928.0,752.8 928.0,746.0 933.0,744.5 933.0,727.5 939.0,727.5 939.0,752.8" fill="#9b4b0b" stroke="#1c0b00" stroke-width="0.9" stroke-linejoin="round" />
<rect x="881.0" y="753.0" width="58.6" height="91.0" fill="url(#silv)" stroke="#555" stroke-width="0.8" />
<path d="M882.5 754.5 L938 754.5" stroke="#444" stroke-width="1.2" stroke-dasharray="1.4 1"/>
<path d="M882.5 818 L938 818" stroke="#444" stroke-width="1.1" stroke-dasharray="1.6 0.8"/>
<rect x="880.0" y="844.0" width="55.5" height="10.0" fill="#9b4b0b" stroke="#1c0b00" stroke-width="0.9" />
<rect x="881.0" y="854.0" width="4.0" height="2.5" fill="#aaa" stroke="#555" stroke-width="0.4" />
<rect x="934.0" y="820.8" width="24.3" height="31.7" fill="#9b4b0b" stroke="#1c0b00" stroke-width="0.9" />
<circle cx="945.8" cy="828" r="3.6" fill="#5b6470" stroke="#16110c" stroke-width="1.3"/><circle cx="945.3" cy="827.3" r="1.51" fill="#aeb6c2"/>
<circle cx="945.8" cy="845.8" r="3.6" fill="#5b6470" stroke="#16110c" stroke-width="1.3"/><circle cx="945.3" cy="845.0999999999999" r="1.51" fill="#aeb6c2"/>
<rect x="904.0" y="855.8" width="9.0" height="14.7" fill="#c8c8d2" stroke="#77778a" stroke-width="0.5" />
<circle cx="905.5" cy="863" r="1.2" fill="#333"/>
<rect x="890.8" y="870.0" width="35.9" height="9.0" fill="#b6b6c8" rx="2.5" stroke="#77778a" stroke-width="0.6" />
<rect x="880.5" y="879.0" width="55.0" height="36.5" fill="#9b4b0b" rx="5" stroke="#1c0b00" stroke-width="0.9" />
<path d="M882 885.5 L934 885.5" stroke="#4a2204" stroke-width="0.8"/>
<rect x="885.4" y="915.0" width="5.8" height="15.0" fill="#7f3d06" stroke="#1c0b00" stroke-width="0.7" />
<rect x="927.0" y="915.0" width="6.5" height="15.0" fill="#7f3d06" stroke="#1c0b00" stroke-width="0.7" />
<rect x="938.5" y="903.0" width="7.5" height="30.0" fill="#9b4b0b" stroke="#1c0b00" stroke-width="0.8" />
<rect x="955.5" y="874.0" width="6.0" height="38.0" fill="#9b4b0b" stroke="#1c0b00" stroke-width="0.8" />
<rect x="959.0" y="896.5" width="19.5" height="14.5" fill="#6c6ace" rx="1" stroke="#4240a0" stroke-width="0.6" />
<polygon points="979.9,912.5 991.7,911.1 993.8,940.3 976.0,955.5 980.6,944.4" fill="#874109" stroke="#1c0b00" stroke-width="0.9" stroke-linejoin="round" />
<rect x="950.7" y="913.5" width="29.2" height="20.5" fill="#9b4b0b" stroke="#1c0b00" stroke-width="0.9" />
<polygon points="951.5,934.0 979.9,934.0 980.6,944.4 975.0,954.9 959.7,955.6 952.8,945.8" fill="#8a4309" stroke="#1c0b00" stroke-width="0.9" stroke-linejoin="round" />
<circle cx="968" cy="941.2" r="4.6" fill="#9b4b0b" stroke="#1c0b00" stroke-width="0.9"/>
<polygon points="955.0,953.0 963.0,955.5 959.0,964.0 954.0,960.0" fill="#55657a" stroke="#1c0b00" stroke-width="0.6" stroke-linejoin="round" />
<path d="M867.4 931.2 Q867.4 929.2 870 929.2 L944.5 929.2 Q947.2 929.2 947.2 931.2 L947.2 967 L867.4 967 Z" fill="#7f3d06" stroke="#1c0b00" stroke-width="1"/>
<path d="M876 967 C876 950 880 946 888 945 M948 967 C948 952 944 947 938 946" fill="none" stroke="#b5621b" stroke-width="3.4"/>
<path d="M874 967 C874 949 879 944 888 943 M878.5 967 C878.5 952 882 948 888 947.5 M950 967 C950 950 945 945 938 944 M945.5 967 C945.5 953 942.5 949 938 948.3" fill="none" stroke="#1c0b00" stroke-width="0.8"/>
<rect x="878.0" y="931.0" width="4.5" height="14.0" fill="#2e1604" />
<rect x="939.5" y="931.0" width="4.0" height="14.0" fill="#2e1604" />
<rect x="888.9" y="929.9" width="48.6" height="36.1" fill="#a04e0c" stroke="#1c0b00" stroke-width="1" />
<polygon points="867.4,966.5 861.0,972.5 861.0,982.0 896.5,982.0 896.5,971.5 922.2,971.5 922.2,982.0 958.3,982.0 958.3,972.5 951.0,966.5" fill="#8f4509" stroke="#1c0b00" stroke-width="0.9" stroke-linejoin="round" />
<path d="M885 968.5 L940 968.5" stroke="#1c0b00" stroke-width="0.9"/>
<polygon points="861.0,978.0 896.5,978.0 895.8,1042.4 881.3,1042.4" fill="url(#finger)" stroke="#111319" stroke-width="0.9" stroke-linejoin="round" />
<polygon points="922.2,978.0 958.3,978.0 938.9,1041.7 922.2,1042.4" fill="url(#finger)" stroke="#111319" stroke-width="0.9" stroke-linejoin="round" />
<polygon points="862.0,976.0 870.5,976.0 873.0,988.0 865.5,988.0" fill="#8a95b2" />
<polygon points="882.0,976.0 890.5,976.0 891.0,987.0 883.0,987.0" fill="#8a95b2" />
<polygon points="929.0,976.0 936.0,976.0 936.0,987.0 929.0,987.0" fill="#8a95b2" />
<polygon points="944.0,976.0 953.5,976.0 950.5,989.0 943.0,989.0" fill="#8a95b2" />
<rect x="871.5" y="972.0" width="10.0" height="14.0" fill="#7f3d06" stroke="#1c0b00" stroke-width="0.6" />
<rect x="936.5" y="972.0" width="6.5" height="18.0" fill="#7f3d06" stroke="#1c0b00" stroke-width="0.6" />
<rect x="923.2" y="986.0" width="5.8" height="48.0" fill="#8893ad" stroke="#2c3240" stroke-width="0.6" />
</g>
<!-- TANK -->
<defs>
<linearGradient id="grayface" x1="0" x2="0" y1="0" y2="1"><stop offset="0" stop-color="#828282"/><stop offset="1" stop-color="#b6b6b6"/></linearGradient>
<linearGradient id="water1" x1="0" x2="1" y1="0" y2="1"><stop offset="0" stop-color="#0a14a8"/><stop offset="0.5" stop-color="#1326d8"/><stop offset="1" stop-color="#0c1cc0"/></linearGradient>
<linearGradient id="binG" x1="0" x2="1" y1="0" y2="0"><stop offset="0" stop-color="#9aa0d0"/><stop offset="0.35" stop-color="#e8eaf8"/><stop offset="1" stop-color="#f4f4fb"/></linearGradient>
<pattern id="speck" width="9" height="7" patternUnits="userSpaceOnUse" patternTransform="rotate(-14)"><rect width="9" height="7" fill="#32327a"/><rect x="0.6" y="0.6" width="2.8" height="2" fill="#b0aad0"/><rect x="4.8" y="3.2" width="3" height="2" fill="#cfc8e2"/><rect x="2.6" y="4.6" width="2" height="1.8" fill="#8480b8"/><rect x="6.3" y="0.2" width="2" height="1.6" fill="#6c68a8"/><rect x="0" y="3.4" width="1.8" height="1.4" fill="#16164e"/><rect x="3.8" y="1" width="1.4" height="1.4" fill="#1a1a52"/></pattern>
</defs>
<g id="tank">
<polygon points="1280.0,655.8 1293.0,646.5 1351.0,656.5 1351.0,672.8" fill="#0a0a0a" />
<polygon points="1280.0,655.8 1657.5,754.3 1657.5,751.5 1280.0,653.5" fill="#0a0a0a" />
<polygon points="1368.0,560.0 1565.0,607.0 1565.0,729.5 1368.0,676.0" fill="#04040a" />
<polygon points="1375.0,613.0 1490.0,641.0 1490.0,705.0 1376.0,674.0" fill="#070a2c" />
<polygon points="1376.0,640.0 1440.0,656.0 1440.0,690.0 1376.0,672.0" fill="#070c38" />
<polygon points="1375.0,613.0 1378.0,614.0 1378.0,675.0 1375.0,674.0" fill="#c8c8d8" opacity="0.6"/>
<polygon points="1440.0,656.7 1495.0,670.0 1495.0,703.0 1431.7,688.0" fill="#1d1e2c" />
<polygon points="1497.5,645.0 1528.0,645.0 1526.7,668.0 1500.0,668.0" fill="#f2f2f8" />
<ellipse cx="1512.7" cy="645" rx="15.3" ry="3.2" fill="#1a1a28"/>
<path d="M1514 642 C1514 626 1530 620 1548 626" fill="none" stroke="#2a2a36" stroke-width="7"/>
<polygon points="1500.0,668.0 1536.0,664.0 1536.0,676.0 1520.0,680.0" fill="#9ab0e8" />
<polygon points="1495.0,670.0 1520.0,673.0 1518.0,706.7 1496.7,703.0" fill="#2a62d0" />
<polygon points="1499.0,672.0 1508.0,673.0 1507.0,703.0 1500.0,702.0" fill="#5a96ee" />
<rect x="1545.0" y="633.0" width="18.0" height="57.0" fill="#f0f0f8"/>
<rect x="1545.0" y="633.0" width="4.0" height="57.0" fill="#a8acc8"/>
<rect x="1545.0" y="690.0" width="18.0" height="27.0" fill="#4a78c8"/>
<polygon points="1520.0,653.0 1545.0,651.0 1545.0,683.0 1520.0,680.0" fill="#b4c6ee" />
<polygon points="1520.0,680.0 1545.0,683.0 1545.0,700.0 1520.0,697.0" fill="#1c2c6c" />
<rect x="1541.0" y="688.0" width="22.0" height="32.0" fill="#2a468e"/>
<rect x="1544.0" y="690.0" width="12.0" height="26.0" fill="#7aa0dc"/>
<polygon points="1585.8,638.0 1650.0,654.0 1650.0,752.0 1585.8,733.0" fill="#0a0a0a" />
<polygon points="1663.0,651.0 1737.0,632.0 1737.0,691.0 1800.8,707.0 1813.8,710.6 1813.8,713.3 1657.5,754.3 1663.0,752.0" fill="#0a0a0a" />
<rect x="1736.7" y="611.7" width="6.3" height="82.3" fill="#d8d8dc"/>
<rect x="1736.7" y="611.7" width="2.3" height="82.3" fill="#1a1a1a"/>
<polygon points="1297.5,580.0 1323.0,573.5 1351.0,578.5 1351.0,591.0 1302.0,582.0" fill="#06060c" />
<polygon points="1302.5,582.5 1351.0,593.3 1351.0,655.5 1310.0,643.5" fill="url(#binG)" />
<polygon points="1302.5,582.5 1351.0,593.3 1351.0,596.0 1303.0,585.0" fill="#c4c8e4" />
<rect x="1287.5" y="540.0" width="5.5" height="108.0" fill="#101010"/>
<polygon points="1287.5,538.3 1351.0,554.0 1351.0,575.0 1287.5,559.0" fill="#ffffff" />
<polygon points="1287.5,538.3 1300.0,541.5 1313.0,559.0 1330.0,552.0 1318.0,569.0 1287.5,559.0" fill="#0c0c0c" />
<polygon points="1330.0,549.0 1351.0,554.0 1351.0,575.0 1340.0,572.0" fill="#161616" opacity="0.85"/>
<path d="M1290.0 539.0 L1300.2 561.7 L1310.3 544.2 L1320.5 567.0 L1330.7 549.3 L1340.8 572.3 L1351.0 554.5" fill="none" stroke="#e4e4cc" stroke-width="1.1" stroke-linejoin="round" stroke-linecap="round" />
<polygon points="1280.8,527.5 1359.0,547.5 1359.0,556.0 1351.0,554.0 1287.5,538.3 1280.8,536.5" fill="#e8ead4" />
<polygon points="1287.5,559.0 1351.0,575.0 1351.0,579.0 1287.5,563.0" fill="#e8ead4" />
<rect x="1280.8" y="528.0" width="6.7" height="127.5" fill="#e8ead4"/>
<rect x="1351.0" y="548.0" width="7.2" height="124.8" fill="#e8ead4"/>
<rect x="1351.0" y="548.0" width="1.2" height="124.8" fill="#d4d6c0"/>
<rect x="1358.0" y="548.0" width="3.9" height="126.0" fill="#050505"/>
<path d="M1372.0 561.5 L1383.9 583.6 L1395.8 567.2 L1407.6 588.8 L1419.5 573.0 L1431.4 594.0 L1443.2 578.8 L1455.1 599.2 L1467.0 584.5 L1478.9 604.3 L1490.8 590.2 L1502.6 609.5 L1514.5 596.0 L1526.4 614.7 L1538.2 601.8 L1550.1 619.9 L1562.0 607.5" fill="none" stroke="#e4e4cc" stroke-width="1.1" stroke-linejoin="round" stroke-linecap="round" />
<polygon points="1361.7,550.0 1570.8,600.5 1570.8,610.0 1368.0,560.0 1361.7,559.0" fill="#e8ead4" />
<polygon points="1368.0,580.0 1565.0,622.5 1565.0,626.5 1368.0,584.0" fill="#e8ead4" />
<rect x="1361.7" y="551.0" width="6.3" height="124.5" fill="#e8ead4"/>
<rect x="1565.0" y="603.0" width="5.8" height="126.5" fill="#e8ead4"/>
<rect x="1570.8" y="604.0" width="8.2" height="127.0" fill="#0c0c0c"/>
<polygon points="1585.8,614.0 1650.0,631.0 1650.0,654.0 1585.8,638.0" fill="#070707" />
<path d="M1590.0 616.0 L1600.0 641.0 L1610.0 621.2 L1620.0 646.0 L1630.0 626.3 L1640.0 651.0 L1650.0 631.5" fill="none" stroke="#e4e4cc" stroke-width="1.1" stroke-linejoin="round" stroke-linecap="round" />
<polygon points="1579.0,605.5 1650.0,623.0 1650.0,632.0 1585.8,615.0 1579.0,613.5" fill="#e8ead4" />
<polygon points="1585.8,638.0 1650.0,654.0 1650.0,658.0 1585.8,642.0" fill="#e8ead4" />
<rect x="1579.0" y="606.0" width="6.8" height="126.0" fill="#e8ead4"/>
<polygon points="1663.0,634.0 1737.0,614.5 1737.0,629.5 1663.0,648.0" fill="#0b0b0b" />
<polygon points="1737.0,614.5 1749.0,611.3 1743.0,628.0" fill="#0b0b0b" />
<polygon points="1762.0,608.0 1786.0,601.6 1774.0,619.0" fill="#0b0b0b" />
<polygon points="1790.0,600.5 1808.0,595.8 1808.0,611.0 1801.0,613.0" fill="#0b0b0b" />
<path d="M1663.0 648.0 L1679.7 630.0 L1686.8 641.9 L1703.0 623.9 L1710.7 635.8 L1726.3 617.8 L1734.5 629.8 L1749.7 611.7 L1758.3 623.7 L1773.0 605.6 L1782.2 617.6 L1796.3 599.5 L1806.0 611.5" fill="none" stroke="#eeeee6" stroke-width="1.1" stroke-linejoin="round" stroke-linecap="round" />
<polygon points="1663.0,625.8 1813.8,585.6 1814.6,594.0 1663.0,634.5" fill="#e9e9e6" />
<polygon points="1663.0,647.5 1808.0,611.0 1808.0,615.0 1663.0,652.0" fill="#e9e9e6" />
<rect x="1649.5" y="623.0" width="14.2" height="128.0" fill="#e6e6e6"/>
<rect x="1649.5" y="623.0" width="6.5" height="128.0" fill="#e8ead4"/>
<polygon points="1649.5,749.0 1656.5,751.3 1663.7,749.0 1663.7,745.0 1649.5,745.0" fill="#e8e8dc" />
<rect x="1800.8" y="594.6" width="8.0" height="115.9" fill="#0a0a0a"/>
<rect x="1808.8" y="590.0" width="5.8" height="120.8" fill="#e9e9e9"/>
<polygon points="1280.8,527.5 1287.5,524.5 1356.7,541.2 1374.0,539.5 1385.0,546.0 1378.3,543.5 1361.7,550.0 1359.0,548.0" fill="#060606" />
<polygon points="1361.7,550.0 1378.3,543.5 1520.0,578.0 1570.0,593.0 1578.0,596.5 1586.7,600.5 1655.0,616.4 1801.2,579.6 1813.8,585.2 1663.7,624.3 1656.5,622.6 1650.0,623.3 1579.0,605.8 1570.8,600.8" fill="#060606" />
<polygon points="1480.0,469.0 1513.0,454.0 1512.0,473.0 1500.0,478.0" fill="#8e8e8e" />
<polygon points="1361.0,496.0 1373.0,493.0 1374.0,540.0 1356.7,541.7" fill="#909090" />
<polygon points="1280.0,476.0 1361.0,496.0 1356.7,541.7 1287.5,525.0" fill="url(#grayface)" />
<polygon points="1288.0,485.0 1346.7,501.7 1346.7,528.0 1293.0,515.0" fill="#04062e" />
<polygon points="1296.0,489.0 1346.7,503.0 1346.7,520.0 1300.0,507.0" fill="#08094a" opacity="0.8"/>
<polygon points="1280.0,476.0 1437.0,435.0 1513.0,454.5 1361.0,496.5" fill="#9c9ca4" />
<polygon points="1290.0,475.3 1436.7,439.0 1503.0,454.5 1361.0,492.3" fill="url(#speck)" />
<polygon points="1322.0,482.5 1443.0,452.0 1472.0,446.5 1503.0,454.5 1361.0,492.3" fill="url(#water1)" />
<polygon points="1443.0,452.0 1472.0,446.5 1503.0,454.5 1474.0,462.0" fill="url(#speck)" opacity="0.85"/>
<path d="M1280.5 476.5 L1361.0 496.5 L1513.0 454.8" fill="none" stroke="#c8c8cc" stroke-width="1.4" stroke-linejoin="round" stroke-linecap="round" />
<polygon points="1513.0,470.0 1684.0,512.5 1690.0,517.0 1682.5,521.0 1513.0,477.5" fill="#0a0a0a" />
<path d="M1516 471 L1684 513" stroke="#2c2c2c" stroke-width="1.6" stroke-dasharray="6 3"/>
<polygon points="1361.0,499.0 1578.0,553.0 1570.0,593.3 1520.0,578.3 1378.3,544.0" fill="#e9e9dc" />
<polygon points="1361.0,499.0 1371.0,501.5 1385.0,546.0 1378.3,544.0" fill="#f4f4ec" />
<polygon points="1377.5,509.2 1560.8,557.5 1560.8,582.5 1381.7,538.3" fill="#05062e" />
<polygon points="1400.0,516.0 1560.8,558.5 1560.8,574.0 1420.0,538.0" fill="#0a0c58" opacity="0.8"/>
<polygon points="1570.0,553.5 1578.0,551.7 1578.0,597.0 1570.0,593.3" fill="#16160e" />
<polygon points="1361.0,497.5 1480.0,469.0 1682.5,521.0 1578.0,552.5" fill="#dcdccc" />
<polygon points="1361.0,497.5 1480.0,469.0 1486.0,470.5 1372.0,498.0" fill="#9fd2dc" />
<polygon points="1480.0,469.0 1682.5,521.0 1674.0,523.0 1480.0,473.0" fill="#8c96a0" />
<polygon points="1378.0,497.5 1480.0,473.3 1668.0,521.3 1578.0,546.5" fill="#060a50" />
<polygon points="1392.0,500.0 1482.0,479.5 1650.0,522.0 1577.0,542.5" fill="#0a2adc" />
<polygon points="1420.0,504.0 1500.0,487.0 1610.0,514.0 1560.0,531.0" fill="#1a32ee" opacity="0.7"/>
<path d="M1361.5 498.3 L1578.0 553.0" fill="none" stroke="#f6f6ea" stroke-width="1.6" stroke-linejoin="round" stroke-linecap="round" />
<polygon points="1578.0,553.0 1651.7,573.0 1655.0,616.7 1586.7,600.8" fill="#ececec" />
<polygon points="1585.0,561.7 1642.5,578.0 1642.5,605.0 1588.0,590.0" fill="#06073a" />
<polygon points="1596.0,568.0 1642.5,580.5 1642.5,598.0 1600.0,586.0" fill="#0c1070" opacity="0.8"/>
<polygon points="1653.0,573.0 1806.7,535.8 1801.7,580.0 1655.0,616.7" fill="#f4f4f4" />
<polygon points="1662.5,575.8 1800.8,541.7 1798.0,573.0 1663.0,606.7" fill="#0208e4" />
<polygon points="1757.0,552.5 1761.0,551.5 1760.5,582.5 1757.5,583.2" fill="#0a0c90" />
<polygon points="1651.7,573.0 1653.0,573.0 1655.5,616.7 1655.0,616.7" fill="#c0c0c0" />
<polygon points="1578.0,552.0 1730.0,513.0 1806.7,535.8 1652.0,573.5" fill="#e6e6ea" />
<polygon points="1578.0,552.0 1730.0,513.0 1733.0,514.5 1590.0,551.0" fill="#a4dce4" />
<polygon points="1589.0,551.3 1730.0,517.5 1795.0,536.0 1652.0,568.5" fill="url(#speck)" />
<polygon points="1625.0,561.0 1742.0,532.0 1770.0,528.5 1795.0,536.0 1652.0,568.5" fill="#0a2adc" />
<polygon points="1742.0,532.0 1770.0,528.5 1795.0,536.0 1770.0,542.0" fill="url(#speck)" opacity="0.8"/>
<path d="M1262.0 451.5 L1431.5 410.8" fill="none" stroke="#0c0c12" stroke-width="5.4" stroke-linejoin="round" stroke-linecap="round" />
<path d="M1318.0 418.5 L1264.0 432.5 L1259.5 436.0 L1259.5 449.0 L1263.0 452.0" fill="none" stroke="#0c0c12" stroke-width="4" stroke-linejoin="round" stroke-linecap="round" />
<path d="M1271.5 453.0 L1271.5 470.0 L1283.0 474.5" fill="none" stroke="#0c0c12" stroke-width="4" stroke-linejoin="round" stroke-linecap="round" />
<path d="M1415.0 421.0 L1420.5 432.0 L1434.0 438.5" fill="none" stroke="#0c0c12" stroke-width="4" stroke-linejoin="round" stroke-linecap="round" />
<polygon points="1421.0,411.0 1433.0,408.0 1433.0,414.0 1422.0,417.0" fill="#16161c" />
<polygon points="1338.0,361.5 1363.0,367.5 1363.0,362.8 1440.0,383.6 1527.0,406.5 1732.0,462.0 1728.5,473.5 1340.0,372.5" fill="#0e0e0e" />
<polygon points="1363.0,362.8 1732.0,462.0 1731.5,464.5 1363.0,366.2" fill="#1e1e1c" />
<path d="M1341.0 366.0 L1729.5 466.5" fill="none" stroke="#26261e" stroke-width="1.1" stroke-linejoin="round" stroke-linecap="round" />
<path d="M1341.0 368.0 L1729.0 469.0" fill="none" stroke="#000" stroke-width="1.2" stroke-linejoin="round" stroke-linecap="round" />
<path d="M1566.0 408.5 L1603.0 418.0 L1611.0 422.0 L1611.0 429.5 L1604.0 432.5 L1580.0 427.0" fill="none" stroke="#0b0b0b" stroke-width="5.6" stroke-linejoin="round" stroke-linecap="round" />
<rect x="1630.0" y="434.6" width="5.0" height="3.0" fill="#f08a28"/>
<rect x="1663.5" y="443.2" width="5.0" height="3.0" fill="#f08a28"/>
<rect x="1696.5" y="451.6" width="5.0" height="3.0" fill="#f08a28"/>
<polygon points="1330.8,362.0 1339.0,360.5 1340.0,371.0 1331.5,371.0" fill="#f47a18" />
<polygon points="1734.0,466.0 1750.0,465.0 1751.0,477.0 1736.0,477.5" fill="#f6861c" />
<polygon points="1734.0,466.0 1750.0,465.0 1749.0,468.0 1735.0,469.0" fill="#ffa040" />
<polygon points="1745.0,466.0 1751.0,466.0 1751.0,477.0 1746.0,477.3" fill="#f8a428" />
<polygon points="1727.0,470.0 1742.0,473.0 1741.0,530.0 1731.7,531.0" fill="#0e0e0e" />
<path d="M1735.0 478.0 L1735.0 528.0" fill="none" stroke="#2a2a2a" stroke-width="1.2" stroke-linejoin="round" stroke-linecap="round" />
<polygon points="1713.0,532.0 1740.0,527.5 1742.0,531.0 1716.0,536.0" fill="#141414" />
<path d="M1663.5 553.0 L1822.0 512.0" fill="none" stroke="#0b0b0b" stroke-width="6" stroke-linejoin="round" stroke-linecap="round" />
<path d="M1664.0 554.0 L1667.5 569.5 L1654.5 572.5" fill="none" stroke="#0b0b0b" stroke-width="4" stroke-linejoin="round" stroke-linecap="round" />
<path d="M1813.0 517.0 L1813.0 532.5 L1803.0 535.0" fill="none" stroke="#0b0b0b" stroke-width="4" stroke-linejoin="round" stroke-linecap="round" />
<rect x="1716.0" y="536.5" width="3.5" height="8.5" fill="#151515"/>
<rect x="1722.5" y="534.9" width="3.5" height="8.5" fill="#151515"/>
<rect x="1729.0" y="533.3" width="3.5" height="8.5" fill="#151515"/>
<rect x="1735.5" y="531.7" width="3.5" height="8.5" fill="#151515"/>
<polygon points="1340.0,371.7 1351.0,374.5 1351.0,440.0 1340.0,436.0" fill="#101014" />
<polygon points="1320.0,383.0 1345.0,377.5 1361.0,381.0 1361.0,416.0 1345.0,421.0 1322.0,418.0" fill="#111115" />
<polygon points="1317.0,385.5 1320.0,384.0 1321.0,418.0 1318.0,424.5 1317.0,424.0" fill="#f47418" />
<polygon points="1318.0,424.5 1330.0,420.5 1330.0,417.0 1325.0,418.5 1321.0,420.0" fill="#f47418" />
<polygon points="1325.0,400.0 1343.0,396.0 1343.0,409.0 1330.0,412.0 1330.0,418.0 1325.0,419.0" fill="#f8651a" />
<polygon points="1351.0,393.0 1365.0,390.5 1365.0,403.0 1351.0,406.5" fill="#f47418" />
<path d="M1356.0 392.5 L1356.0 405.5 L1360.5 391.5 L1360.5 404.5" fill="none" stroke="#c85a10" stroke-width="0.8" stroke-linejoin="round" stroke-linecap="round" />
<polygon points="1327.0,433.5 1340.0,418.0 1351.0,420.0 1351.0,440.5 1329.0,447.0" fill="#141a3c" />
<circle cx="1333" cy="436" r="0.7" fill="#5a6aa0"/>
<circle cx="1338" cy="434.5" r="0.7" fill="#5a6aa0"/>
<circle cx="1343" cy="433" r="0.7" fill="#5a6aa0"/>
<circle cx="1333" cy="442" r="0.7" fill="#5a6aa0"/>
<circle cx="1338" cy="440.5" r="0.7" fill="#5a6aa0"/>
<circle cx="1343" cy="439" r="0.7" fill="#5a6aa0"/>
<rect x="1551.0" y="339.0" width="4.5" height="23.0" fill="#101010"/>
<polygon points="1536.7,337.5 1550.5,336.5 1551.0,353.5 1537.5,354.5" fill="#f47a18" />
<polygon points="1536.7,337.5 1550.5,336.5 1551.5,338.5 1538.0,340.0" fill="#ff9840" />
<path d="M1543.5 355.0 L1544.5 366.0" fill="none" stroke="#222" stroke-width="1.6" stroke-linejoin="round" stroke-linecap="round" />
<rect x="1538.0" y="386.0" width="9.5" height="67.0" fill="#0c0c0c"/>
<polygon points="1542.5,365.5 1548.0,362.0 1563.7,363.5 1563.7,387.0 1543.0,388.0" fill="#f88c1c" />
<polygon points="1542.5,365.5 1548.0,362.0 1563.7,363.5 1558.0,367.5" fill="#ffb030" />
<rect x="1538.5" y="387.5" width="8.5" height="8.5" fill="#e85c10"/>
<polygon points="1540.0,396.5 1545.0,394.0 1563.7,395.0 1563.7,421.7 1540.0,421.7" fill="#f88a1c" />
<polygon points="1540.0,396.5 1545.0,394.0 1563.7,395.0 1559.0,398.5" fill="#ffac30" />
<polygon points="1527.5,405.0 1538.0,404.0 1538.0,413.0 1528.5,413.0" fill="#f0701a" />
<rect x="1538.5" y="421.7" width="8.5" height="6.3" fill="#e4600f"/>
<polygon points="1547.5,428.0 1564.0,429.0 1564.0,461.5 1547.5,460.0" fill="#ee5c12" />
<rect x="1551.0" y="441.0" width="6.0" height="17.5" fill="#f4f0e8"/>
<polygon points="1547.5,433.0 1557.0,431.0 1559.0,437.0 1547.5,440.0" fill="#f8a040" />
<rect x="1538.5" y="451.0" width="9.0" height="7.0" fill="#f06a14"/>
<path d="M1544.5 461.0 L1543.5 480.0 L1545.5 500.0 L1548.0 508.0" fill="none" stroke="#c8d4ec" stroke-width="1.3" stroke-linejoin="round" stroke-linecap="round" />
<path d="M1547.5 461.0 L1546.5 480.0 L1547.5 500.0" fill="none" stroke="#f0f0f8" stroke-width="1.2" stroke-linejoin="round" stroke-linecap="round" />
<path d="M1552.0 461.0 L1551.0 480.0 L1552.5 498.0" fill="none" stroke="#d4dcf0" stroke-width="1.3" stroke-linejoin="round" stroke-linecap="round" />
<path d="M1555.5 461.0 L1557.0 480.0 L1559.0 496.0 L1556.0 506.0" fill="none" stroke="#c8d4ec" stroke-width="1.3" stroke-linejoin="round" stroke-linecap="round" />
<path d="M1551.0 462.0 L1550.0 480.0" fill="none" stroke="#e85c10" stroke-width="1.2" stroke-linejoin="round" stroke-linecap="round" />
<polygon points="1544.0,506.0 1552.0,498.0 1554.0,503.0 1561.0,504.0 1560.0,516.0 1547.0,517.0" fill="#f26a14" />
</g>
</svg>
</body></html>
